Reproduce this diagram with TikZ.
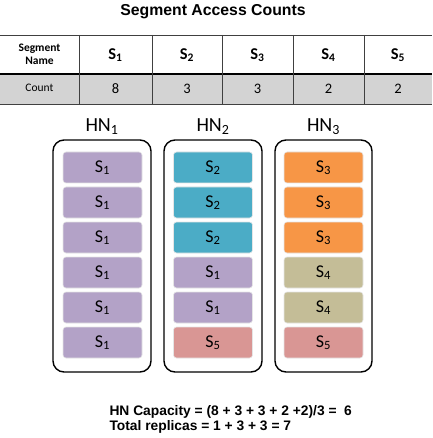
\documentclass[tikz,border=0pt]{standalone}
\usepackage{fontspec}
\setmainfont{Carlito}
\newfontfamily\arialf{Liberation Sans}
\definecolor{segpurple}{HTML}{B3A2C7}
\definecolor{segteal}{HTML}{4BACC6}
\definecolor{segorange}{HTML}{F79646}
\definecolor{segkhaki}{HTML}{C4BD97}
\definecolor{segpink}{HTML}{D99694}
\definecolor{rowgray}{HTML}{D3D3D3}
\newcommand{\sub}[1]{\textsubscript{#1}}
\begin{document}
\begin{tikzpicture}[x=1pt,y=-1pt,
  seg/.style={draw=white!90!black,line width=0.6pt,rounded corners=3pt,minimum width=79pt,minimum height=31pt,inner sep=0pt,font=\fontsize{18}{18}\selectfont},
  hnbox/.style={draw=black,line width=1.4pt,rounded corners=11pt},
  hnlabel/.style={font=\fontsize{20}{20}\selectfont},
  hdr/.style={font=\bfseries\fontsize{16.5}{17}\selectfont},
  num/.style={font=\fontsize{14.5}{15}\selectfont},
  grid/.style={draw=black!75,line width=0.8pt}]
\useasboundingbox (0,0) rectangle (432,438);
% title
\node[font=\arialf\bfseries\fontsize{15.8}{16}\selectfont] (title) at (213,12) {Segment Access Counts};
% table
\fill[rowgray] (0,74) rectangle (432,104);
\draw[grid] (0,35) -- (432,35);
\draw[grid] (0,104) -- (432,104);
\draw[black,line width=1.8pt] (0,74) -- (432,74);
\foreach \x in {79,152,222,293,364} \draw[grid] (\x,35) -- (\x,104);
\node[align=center,font=\bfseries\fontsize{11.5}{13}\selectfont] (hname) at (39.5,54.5) {Segment\\Name};
\node[font=\fontsize{11.5}{13}\selectfont] (hcount) at (39.5,88) {Count};
\node[hdr] (h1) at (115.5,55) {S\sub{1}};
\node[hdr] (h2) at (187,55) {S\sub{2}};
\node[hdr] (h3) at (257.5,55) {S\sub{3}};
\node[hdr] (h4) at (328.5,55) {S\sub{4}};
\node[hdr] (h5) at (398,55) {S\sub{5}};
\node[num] (c1) at (115.5,89) {8};
\node[num] (c2) at (187,89) {3};
\node[num] (c3) at (257.5,89) {3};
\node[num] (c4) at (328.5,89) {2};
\node[num] (c5) at (398,89) {2};
% HN boxes
\draw[hnbox] (53,140) rectangle (151,372);
\draw[hnbox] (164,140) rectangle (262,372);
\draw[hnbox] (275,140) rectangle (372,372);
\node[hnlabel] (hn1) at (102,127) {HN\sub{1}};
\node[hnlabel] (hn2) at (213,127) {HN\sub{2}};
\node[hnlabel] (hn3) at (323.5,127) {HN\sub{3}};
% segments
\foreach \i/\c/\s in {0/segpurple/1,1/segpurple/1,2/segpurple/1,3/segpurple/1,4/segpurple/1,5/segpurple/1}
  \node[seg,fill=\c] (a\i) at (102.5,{167.5+35*\i}) {S\sub{\s}};
\foreach \i/\c/\s in {0/segteal/2,1/segteal/2,2/segteal/2,3/segpurple/1,4/segpurple/1,5/segpink/5}
  \node[seg,fill=\c] (b\i) at (213,{167.5+35*\i}) {S\sub{\s}};
\foreach \i/\c/\s in {0/segorange/3,1/segorange/3,2/segorange/3,3/segkhaki/4,4/segkhaki/4,5/segpink/5}
  \node[seg,fill=\c] (d\i) at (323.5,{167.5+35*\i}) {S\sub{\s}};
% formula
\node[anchor=west,align=left,font=\arialf\bfseries\fontsize{13.8}{15}\selectfont] (formula) at (106,419) {HN Capacity = (8 + 3 + 3 + 2 +2)/3 = ~6\\Total replicas = 1 + 3 + 3 = 7};
\end{tikzpicture}
\end{document}
